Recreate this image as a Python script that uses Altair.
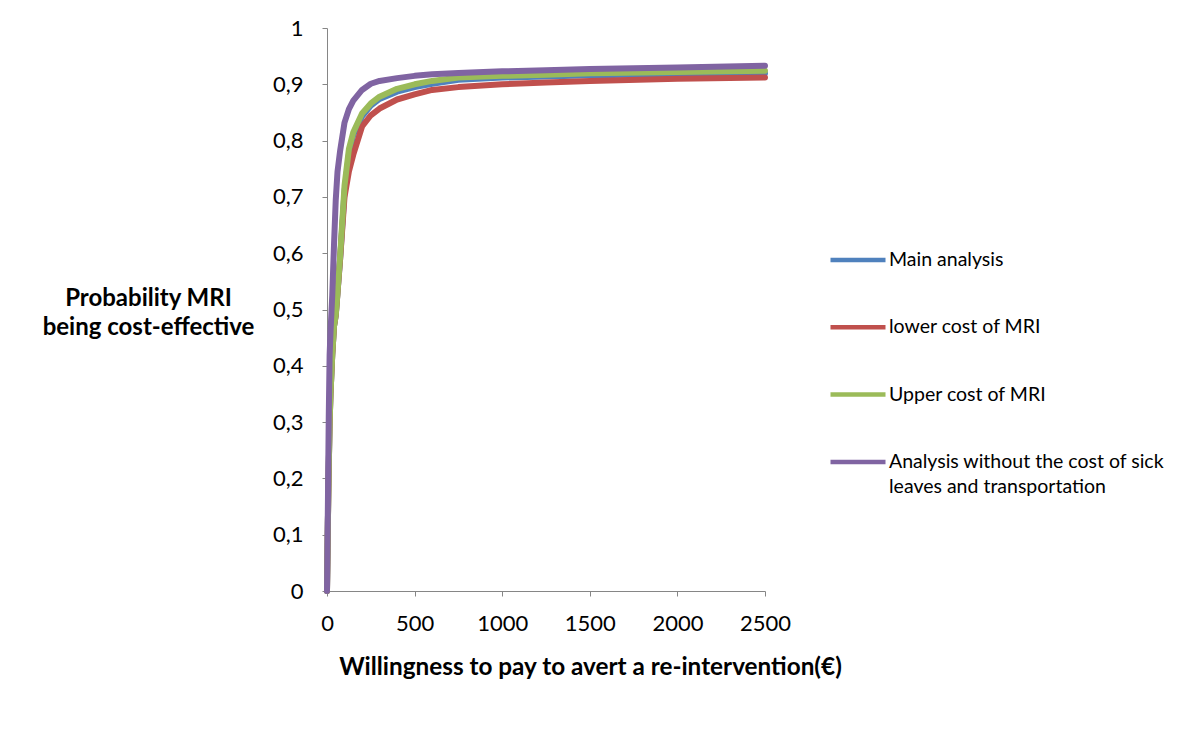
import altair as alt
import pandas as pd

# Willingness to pay (EUR)
wtp = [0, 5, 10, 15, 20, 30, 40, 50, 60, 75, 100, 125, 150, 200, 250, 300,
       400, 500, 600, 750, 1000, 1250, 1500, 2000, 2500]

series_names = [
    "Main analysis",
    "lower cost of MRI",
    "Upper cost of MRI",
    "Analysis without the cost of sick leaves and transportation",
]
series_colors = ["#4F81BD", "#C0504D", "#9BBB59", "#8064A2"]

main_analysis = [0, 0.12, 0.22, 0.30, 0.35, 0.42, 0.47, 0.49, 0.53, 0.59, 0.71, 0.775,
                 0.81, 0.843, 0.862, 0.874, 0.887, 0.895, 0.901, 0.908, 0.912, 0.914,
                 0.916, 0.918, 0.9195]
lower_cost = [0, 0.12, 0.22, 0.30, 0.35, 0.42, 0.47, 0.49, 0.53, 0.59, 0.70, 0.745,
              0.775, 0.825, 0.845, 0.857, 0.873, 0.882, 0.890, 0.895, 0.900, 0.903,
              0.906, 0.910, 0.912]
upper_cost = [0, 0.12, 0.22, 0.30, 0.35, 0.42, 0.47, 0.49, 0.53, 0.595, 0.72, 0.785,
              0.815, 0.848, 0.866, 0.878, 0.892, 0.900, 0.906, 0.912, 0.915, 0.917,
              0.9195, 0.922, 0.924]
no_sick_leave = [0, 0.15, 0.31, 0.42, 0.46, 0.525, 0.615, 0.695, 0.745, 0.782, 0.832,
                 0.856, 0.871, 0.890, 0.901, 0.906, 0.911, 0.915, 0.918, 0.920, 0.923,
                 0.925, 0.927, 0.930, 0.933]

values = [main_analysis, lower_cost, upper_cost, no_sick_leave]
rows = []
for name, vals in zip(series_names, values):
    for x, y in zip(wtp, vals):
        rows.append({"wtp": x, "prob": y, "series": name})
df = pd.DataFrame(rows)

FONT = "Lato"
GRAY = "#868686"

label_expr = ("datum.label == 'Analysis without the cost of sick leaves and transportation' ? "
              "['Analysis without the cost of sick', 'leaves and transportation'] : datum.label")

chart = alt.Chart(df).mark_line(strokeWidth=6, strokeJoin="round", strokeCap="round").encode(
    x=alt.X("wtp:Q", scale=alt.Scale(domain=[0, 2500], nice=False),
            axis=alt.Axis(values=[0, 500, 1000, 1500, 2000, 2500], grid=False, format="d",
                          title="Willingness to pay to avert a re-intervention(€)",
                          titleX=263, titleY=76, titleBaseline="middle", titleAlign="center",
                          titleFontSize=24.3, titleFontWeight="bold", titleColor="black",
                          titleFont=FONT,
                          labelFont=FONT, labelFontSize=22, labelColor="black",
                          labelPadding=17, tickSize=5, tickColor=GRAY, domainColor=GRAY,
                          labelFlush=False)),
    y=alt.Y("prob:Q", scale=alt.Scale(domain=[0, 1], nice=False),
            axis=alt.Axis(values=[0, 0.1, 0.2, 0.3, 0.4, 0.5, 0.6, 0.7, 0.8, 0.9, 1.0],
                          grid=False,
                          labelExpr="replace(format(datum.value, '.1~f'), '.', ',')",
                          title=["Probability MRI", "being cost-effective"],
                          titleAngle=0, titleX=-179, titleY=270, titleAlign="center",
                          titleBaseline="middle", titleLineHeight=29,
                          titleFontSize=24, titleFontWeight="bold", titleColor="black",
                          titleFont=FONT,
                          labelFont=FONT, labelFontSize=22, labelColor="black",
                          labelPadding=19, tickSize=5, tickColor=GRAY, domainColor=GRAY,
                          labelFlush=False)),
    color=alt.Color("series:N",
                    scale=alt.Scale(domain=series_names, range=series_colors),
                    legend=alt.Legend(title=None, orient="none", legendX=501, legendY=202,
                                      symbolType="stroke", symbolSize=3025,
                                      symbolStrokeWidth=4.5, labelOffset=1,
                                      labelFont=FONT, labelFontSize=19.5, labelColor="black",
                                      labelLimit=400, rowPadding=27.3, padding=0,
                                      labelExpr=label_expr)),
    order=alt.Order("wtp:Q"),
).properties(
    width=438,
    height=563,
    autosize=alt.AutoSizeParams(type="none"),
    padding={"left": 319, "top": 20, "right": 420, "bottom": 148},
).configure(
    background="white",
    style={"guide-label": {"lineHeight": 25.5}},
).configure_view(stroke=None)

chart.save("out.html", embed_options={"renderer": "svg", "actions": False})
